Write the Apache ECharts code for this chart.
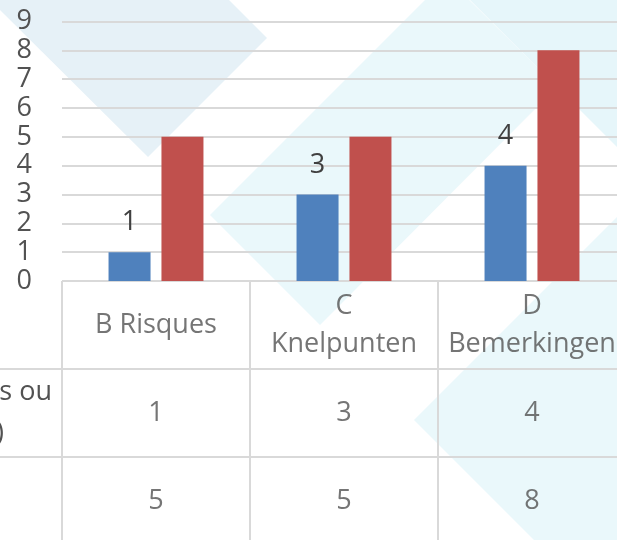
<!DOCTYPE html>
<html>
<head>
<meta charset="utf-8">
<script src="https://cdn.jsdelivr.net/npm/echarts@6/dist/echarts.min.js"></script>
<style>
  html, body { margin: 0; padding: 0; background: #fff; overflow: hidden; }
  /* the reference is cropped: the chart is a bit larger than the window */
  #chart { width: 640px; height: 560px; }
</style>
</head>
<body>
<div id="chart"></div>
<script>
// chart values
const categories = ['B Risques', 'C\nKnelpunten', 'D\nBemerkingen'];
const blueValues = [1, 3, 4];
const redValues = [5, 5, 8];
const yMin = 0;
const yMax = 9;
const yStep = 1;
const tableRows = ['header', 'blue', 'red'];

const FONT = '"Open Sans", sans-serif';
const TEXT = '#525252';
const GRID_LINE = '#D9D9D9';

// text cells of the data table: header row + one row per series
const tableCells = [];
categories.forEach((c, i) => {
  tableCells.push({ value: [i, 0], text: c });
  tableCells.push({ value: [i, 1], text: String(blueValues[i]) });
  tableCells.push({ value: [i, 2], text: String(redValues[i]) });
});

const chart = echarts.init(document.getElementById('chart'));

const option = {
  backgroundColor: '#fff',
  animation: false,
  graphic: [
    // faint watermark shapes behind the chart
    { type: 'polygon', z: -10, silent: true, shape: { points: [[148, 157], [267, 38], [99, -130], [-20, -10]] }, style: { fill: '#E6F1F7' } },
    { type: 'polygon', z: -10, silent: true, shape: { points: [[210, 215], [447, -22], [557, 87], [320, 325]] }, style: { fill: '#EAF8FB' } },
    { type: 'polygon', z: -10, silent: true, shape: { points: [[460, -10], [640, 170], [640, -10]] }, style: { fill: '#E6F6FA' } },
    { type: 'polygon', z: -10, silent: true, shape: { points: [[414, 420], [640, 194], [640, 646]] }, style: { fill: '#EAF8FB' } },
    // cut-off row label of the data table
    { type: 'text', x: 52, y: 392, silent: true, style: { text: 's ou', fill: TEXT, font: '27px ' + FONT, textAlign: 'right', textVerticalAlign: 'middle' } },
    { type: 'text', x: 4, y: 433, silent: true, style: { text: ')', fill: TEXT, font: '27px ' + FONT, textAlign: 'right', textVerticalAlign: 'middle' } }
  ],
  grid: [
    { left: 62, width: 564, top: 21.5, height: 259.5 },
    { left: 62, width: 564, top: 281, height: 264 }
  ],
  xAxis: [
    {
      type: 'category', gridIndex: 0, data: categories,
      axisLine: { show: false }, axisTick: { show: false }, axisLabel: { show: false }
    },
    {
      type: 'category', gridIndex: 1, data: categories,
      axisLine: { show: false }, axisTick: { show: false }, axisLabel: { show: false },
      splitLine: { show: true, interval: 0, lineStyle: { color: GRID_LINE, width: 2 } }
    }
  ],
  yAxis: [
    {
      type: 'value', gridIndex: 0, min: yMin, max: yMax, interval: yStep,
      axisLine: { show: false }, axisTick: { show: false },
      axisLabel: { color: TEXT, fontSize: 27, fontFamily: FONT, margin: 30 },
      splitLine: { lineStyle: { color: GRID_LINE, width: 2 } }
    },
    {
      type: 'category', gridIndex: 1, data: tableRows, inverse: true,
      axisLine: { show: false }, axisLabel: { show: false },
      axisTick: { show: true, length: 62, interval: (i) => i > 0, lineStyle: { color: GRID_LINE, width: 2 } },
      splitLine: { show: true, interval: 0, lineStyle: { color: GRID_LINE, width: 2 } }
    }
  ],
  series: [
    {
      type: 'bar', xAxisIndex: 0, yAxisIndex: 0, data: blueValues,
      barWidth: 42, barGap: '26%',
      itemStyle: { color: '#4F81BD' },
      label: { show: true, position: 'top', distance: 16, color: '#404040', fontSize: 27, fontFamily: FONT }
    },
    {
      type: 'bar', xAxisIndex: 0, yAxisIndex: 0, data: redValues,
      barWidth: 42, barGap: '26%',
      itemStyle: { color: '#C0504D' }
    },
    {
      type: 'scatter', xAxisIndex: 1, yAxisIndex: 1, data: tableCells,
      symbolSize: 1, itemStyle: { color: 'rgba(0,0,0,0)' }, silent: true,
      label: {
        show: true, position: 'inside', color: TEXT, fontSize: 27, fontFamily: FONT, lineHeight: 38,
        formatter: (p) => p.data.text
      }
    }
  ]
};

chart.setOption(option);
</script>
</body>
</html>
